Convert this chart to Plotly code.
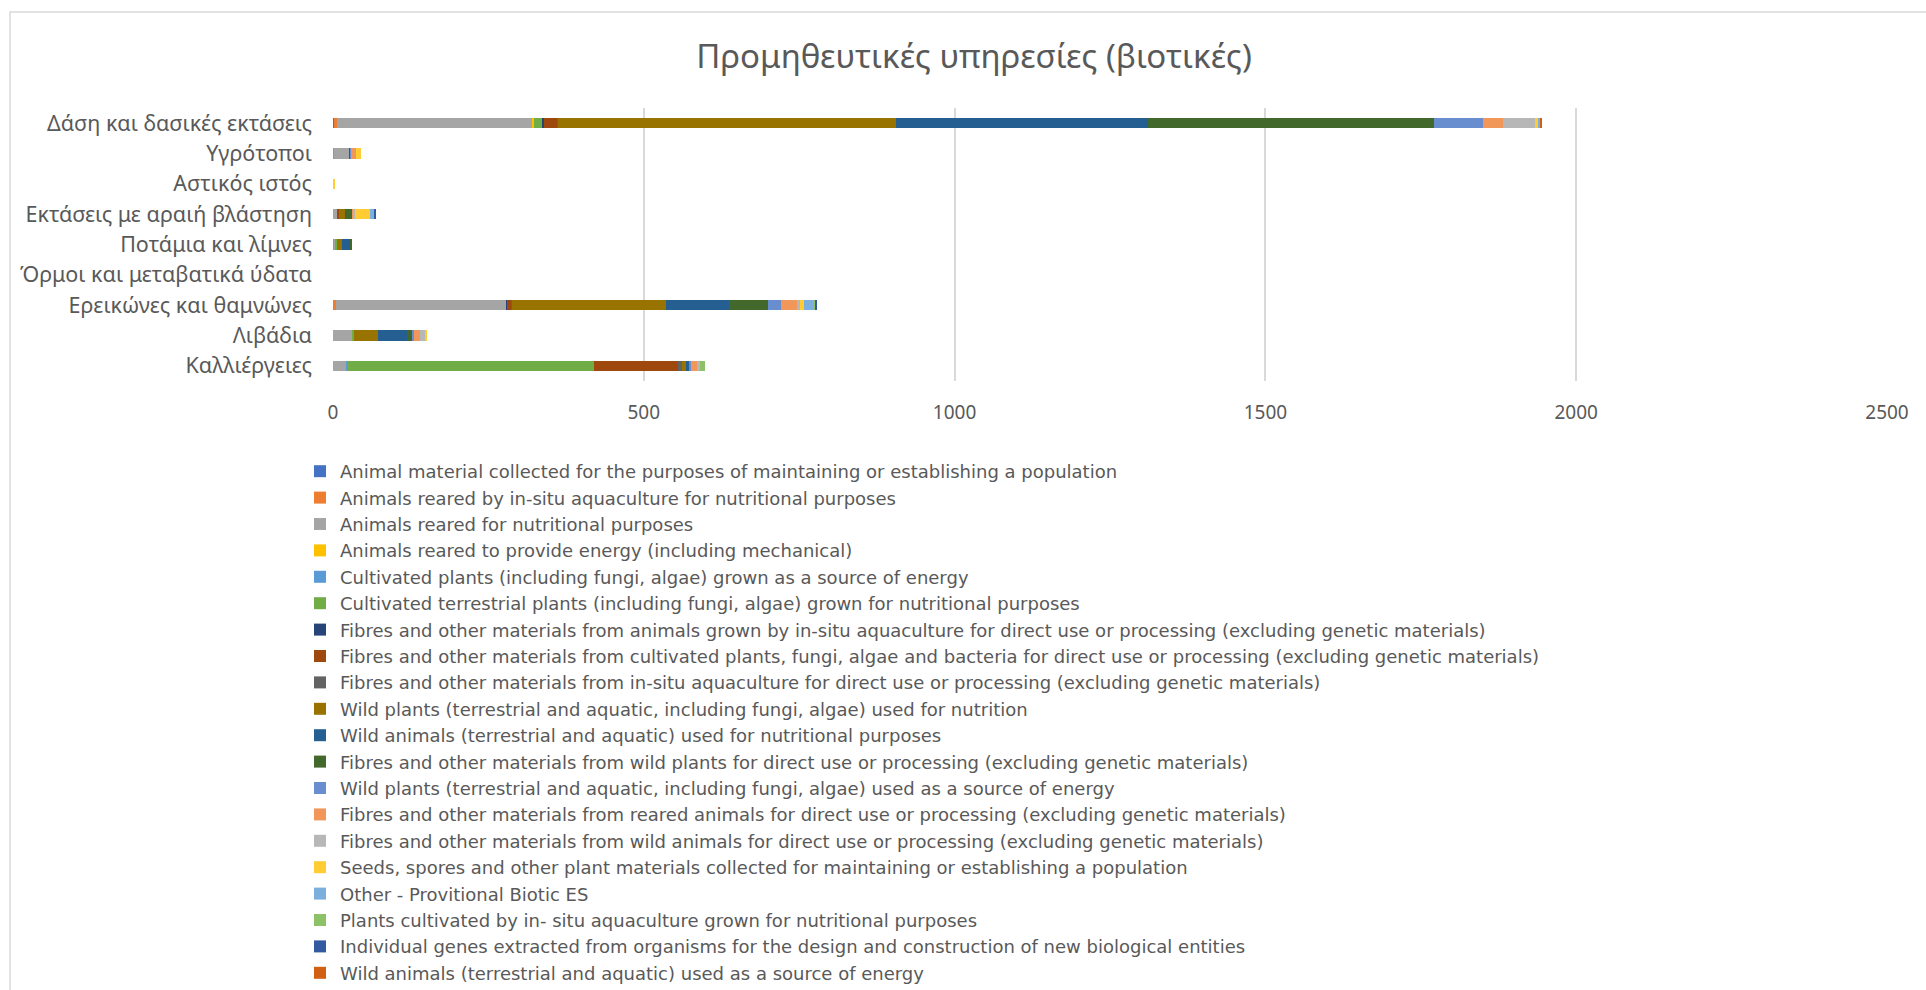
import plotly.graph_objects as go

# Land-cover categories, listed top to bottom
categories = [
    "Δάση και δασικές εκτάσεις",
    "Υγρότοποι",
    "Αστικός ιστός",
    "Εκτάσεις με αραιή βλάστηση",
    "Ποτάμια και λίμνες",
    "Όρμοι και μεταβατικά ύδατα",
    "Ερεικώνες και θαμνώνες",
    "Λιβάδια",
    "Καλλιέργειες",
]

series_names = [
    "Animal material collected for the purposes of maintaining or establishing a population",
    "Animals reared by in-situ aquaculture for nutritional purposes",
    "Animals reared for nutritional purposes",
    "Animals reared to provide energy (including mechanical)",
    "Cultivated plants (including fungi, algae) grown as a source of energy",
    "Cultivated terrestrial plants (including fungi, algae) grown for nutritional purposes",
    "Fibres and other materials from animals grown by in-situ aquaculture for direct use or processing (excluding genetic materials)",
    "Fibres and other materials from cultivated plants, fungi, algae and bacteria for direct use or processing (excluding genetic materials)",
    "Fibres and other materials from in-situ aquaculture for direct use or processing (excluding genetic materials)",
    "Wild plants (terrestrial and aquatic, including fungi, algae) used for nutrition",
    "Wild animals (terrestrial and aquatic) used for nutritional purposes",
    "Fibres and other materials from wild plants for direct use or processing (excluding genetic materials)",
    "Wild plants (terrestrial and aquatic, including fungi, algae) used as a source of energy",
    "Fibres and other materials from reared animals for direct use or processing (excluding genetic materials)",
    "Fibres and other materials from wild animals for direct use or processing (excluding genetic materials)",
    "Seeds, spores and other plant materials collected for maintaining or establishing a population",
    "Other - Provitional Biotic ES",
    "Plants cultivated by in- situ aquaculture grown for nutritional purposes",
    "Individual genes extracted from organisms for the design and construction of new biological entities",
    "Wild animals (terrestrial and aquatic) used as a source of energy",
]

# One list per service, values in category order
animal_material = [1, 0, 0, 0, 0, 0, 0.5, 0, 0]
aquaculture_animals = [5, 1, 0, 0, 1, 0, 4.5, 0, 0]
reared_animals_food = [315, 25, 0, 8, 3.5, 0, 273.5, 31.5, 21.5]
reared_animals_energy = [3, 0, 0, 0, 0, 0, 0, 0, 0]
cultivated_energy = [0, 0, 0, 0, 0, 0, 0, 0, 2.7]
cultivated_food = [13.5, 0, 0, 0, 2.5, 0, 0, 2, 396]
fibres_aquaculture_animals = [2, 0, 0, 0, 0, 0, 2, 0, 0]
fibres_cultivated = [21.5, 0, 0, 2, 0, 0, 7, 0, 135]
fibres_aquaculture = [1, 0, 0, 0, 0, 0, 1, 0, 6]
wild_plants_food = [543, 0, 0, 9.5, 7.5, 0, 247, 38.5, 6]
wild_animals_food = [406, 2, 0, 1.5, 13, 0, 101.5, 46.5, 6.5]
fibres_wild_plants = [460, 0, 0, 10, 2, 0, 63.5, 9, 0]
wild_plants_energy = [79, 1, 0, 0, 0, 0, 19.5, 2.5, 3]
fibres_reared_animals = [32, 8, 0, 2, 0, 0, 26.5, 10, 10]
fibres_wild_animals = [51, 0, 0, 2, 0, 0, 5.5, 7.5, 3]
seeds_spores = [7, 8, 3, 24, 0, 0, 6.5, 4, 0]
other_biotic = [1, 0, 0, 7.5, 0, 0, 15, 0, 0]
aquaculture_plants = [0, 0, 0, 1, 0, 0, 2, 0, 8]
individual_genes = [0, 0, 0, 0.5, 0, 0, 3, 0, 0]
wild_animals_energy = [3.5, 0, 0, 0, 0, 0, 0, 0, 0]

series_values = [
    animal_material, aquaculture_animals, reared_animals_food, reared_animals_energy,
    cultivated_energy, cultivated_food, fibres_aquaculture_animals, fibres_cultivated,
    fibres_aquaculture, wild_plants_food, wild_animals_food, fibres_wild_plants,
    wild_plants_energy, fibres_reared_animals, fibres_wild_animals, seeds_spores,
    other_biotic, aquaculture_plants, individual_genes, wild_animals_energy,
]

colors = [
    "#4472C4", "#ED7D31", "#A5A5A5", "#FFC000", "#5B9BD5",
    "#70AD47", "#264478", "#9E480E", "#636363", "#997300",
    "#255E91", "#43682B", "#698ED0", "#F1975A", "#B7B7B7",
    "#FFCD33", "#7CAFDD", "#8CC168", "#335AA1", "#D26012",
]

x_ticks = [0, 500, 1000, 1500, 2000, 2500]

TEXT = "#595959"
FONT = "Noto Sans"
LEGEND_FONT = "DejaVu Sans"

fig = go.Figure()
for name, vals, col in zip(series_names, series_values, colors):
    fig.add_trace(go.Bar(
        y=categories, x=vals, name=name, orientation="h",
        marker=dict(color=col, line=dict(width=0)),
    ))

W, H = 1926, 990
ml, mr, mt, mb = 333, 39, 108, 4
pw = W - ml - mr
ph = H - mt - mb
bars_bottom = 381          # pixel row where the bar band ends
band_frac = (bars_bottom - mt) / ph


def px_x(p):
    return (p - ml) / pw


def px_y(p):
    return (H - mb - p) / ph


fig.update_layout(
    width=W, height=H,
    barmode="stack", bargap=0.65,
    plot_bgcolor="white", paper_bgcolor="white",
    margin=dict(l=ml, r=mr, t=mt, b=mb, autoexpand=False),
    font=dict(family=FONT, color=TEXT),
    title=dict(
        text="Προμηθευτικές υπηρεσίες (βιοτικές)",
        x=974 / W, xref="container", xanchor="center",
        y=1 - 56 / H, yref="container", yanchor="middle",
        font=dict(family=FONT, size=33, color=TEXT),
    ),
    xaxis=dict(
        range=[0, 2500], tickvals=x_ticks, ticktext=[str(v) for v in x_ticks],
        showgrid=True, gridcolor="#D9D9D9", gridwidth=1.5,
        zeroline=False, showline=False, ticks="",
        tickfont=dict(family=FONT, size=19, color=TEXT),
        ticklabelstandoff=18,
        anchor="y", fixedrange=True,
    ),
    yaxis=dict(
        domain=[1 - band_frac, 1],
        categoryorder="array", categoryarray=categories,
        autorange="reversed", showgrid=False, zeroline=False,
        showline=False, ticks="",
        tickfont=dict(family=FONT, size=21.5, color=TEXT),
        ticklabelstandoff=20,
        fixedrange=True,
    ),
    legend=dict(
        traceorder="normal", orientation="v",
        x=px_x(300), xanchor="left",
        y=px_y(453), yanchor="top", yref="paper",
        font=dict(family=LEGEND_FONT, size=18, color=TEXT),
        bgcolor="rgba(0,0,0,0)", itemclick=False, itemdoubleclick=False,
    ),
    showlegend=True,
    shapes=[dict(
        type="rect", xref="paper", yref="paper",
        x0=px_x(10), x1=px_x(W + 20),
        y0=px_y(H + 20), y1=px_y(12),
        line=dict(color="#D9D9D9", width=1.5), fillcolor="rgba(0,0,0,0)",
        layer="below",
    )],
)

fig.write_html("out.html", config={"displayModeBar": False})
